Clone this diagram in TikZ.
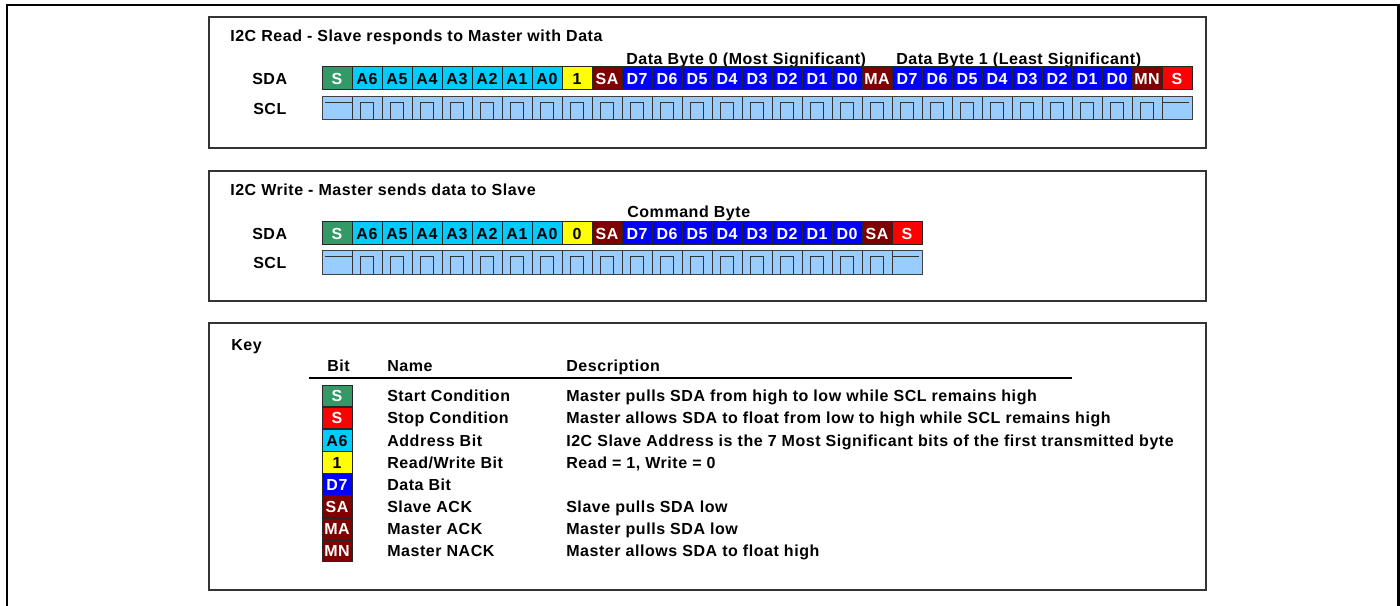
\documentclass[tikz,border=0pt]{standalone}
\usepackage{fontspec}
\setmainfont{Liberation Sans}[LetterSpace=3.5]
\definecolor{cgreen}{HTML}{339966}
\definecolor{caddr}{HTML}{00CCFF}
\definecolor{cyel}{HTML}{FFFF00}
\definecolor{cack}{HTML}{800000}
\definecolor{cdata}{HTML}{0000FF}
\definecolor{cstop}{HTML}{FF0000}
\definecolor{sclblue}{HTML}{99CCFF}
\begin{document}
\begin{tikzpicture}[x=0.75pt,y=-0.75pt,
  every node/.style={font=\fontsize{12pt}{14pt}\selectfont\bfseries},
  lbl/.style={anchor=west, inner sep=0pt, text height=8.6pt, text depth=0pt},
  cell/.style={draw=black!85, line width=0.75pt, minimum width=22.5pt, minimum height=17.25pt, inner sep=0pt, text height=8.6pt, text depth=0pt},
  keycell/.style={cell, minimum height=16.2pt},
  frame/.style={draw=black!80, line width=1.5pt},
  sclband/.style={fill=sclblue, draw=black!75, line width=0.75pt},
  sclline/.style={draw=black!80, line width=0.75pt}]
\useasboundingbox (0,0) rectangle (1400,606);
% outer frame
\draw[line width=1.6pt] (7,620) -- (7,5) -- (1398.5,5) -- (1398.5,620);
% boxes
\draw[frame] (209,17) rectangle (1206,148);
\draw[frame] (209,171) rectangle (1206,301);
\draw[frame] (209,323) rectangle (1206,590);
% ---------- READ ----------
\node[lbl] (rtitle) at (230,36) {I2C Read - Slave responds to Master with Data};
\node[lbl] (rdb0) at (626,58.5) {Data Byte 0 (Most Significant)};
\node[lbl] (rdb1) at (896,58.5) {Data Byte 1 (Least Significant)};
\node[lbl] (rsda) at (252,79) {SDA};
\node[lbl] (rscl) at (253,108.5) {SCL};
\foreach \t/\f/\c [count=\i from 0] in {S/cgreen/white, A6/caddr/black, A5/caddr/black, A4/caddr/black, A3/caddr/black, A2/caddr/black, A1/caddr/black, A0/caddr/black, 1/cyel/black, SA/cack/white, D7/cdata/white, D6/cdata/white, D5/cdata/white, D4/cdata/white, D3/cdata/white, D2/cdata/white, D1/cdata/white, D0/cdata/white, MA/cack/white, D7/cdata/white, D6/cdata/white, D5/cdata/white, D4/cdata/white, D3/cdata/white, D2/cdata/white, D1/cdata/white, D0/cdata/white, MN/cack/white, S/cstop/white}
  \node[cell, fill=\f, text=\c] (rd\i) at (337+30*\i,78.5) {\t};
\filldraw[sclband] (322,97) rectangle (1192,120);
\foreach \i in {1,...,28} \draw[sclline] (322+30*\i,97) -- (322+30*\i,120);
\foreach \i in {1,...,27} \draw[sclline] (330.5+30*\i,120) -- (330.5+30*\i,102.5) -- (343.5+30*\i,102.5) -- (343.5+30*\i,120);
\draw[sclline] (325,103) -- (352,103);
\draw[sclline] (1162,103) -- (1189,103);
% ---------- WRITE ----------
\node[lbl] (wtitle) at (230,190) {I2C Write - Master sends data to Slave};
\node[lbl] (wcmd) at (627,211.5) {Command Byte};
\node[lbl] (wsda) at (252,233.5) {SDA};
\node[lbl] (wscl) at (253,262.5) {SCL};
\foreach \t/\f/\c [count=\i from 0] in {S/cgreen/white, A6/caddr/black, A5/caddr/black, A4/caddr/black, A3/caddr/black, A2/caddr/black, A1/caddr/black, A0/caddr/black, 0/cyel/black, SA/cack/white, D7/cdata/white, D6/cdata/white, D5/cdata/white, D4/cdata/white, D3/cdata/white, D2/cdata/white, D1/cdata/white, D0/cdata/white, SA/cack/white, S/cstop/white}
  \node[cell, fill=\f, text=\c] (wd\i) at (337+30*\i,233.5) {\t};
\filldraw[sclband] (322,251) rectangle (922,274);
\foreach \i in {1,...,19} \draw[sclline] (322+30*\i,251) -- (322+30*\i,274);
\foreach \i in {1,...,18} \draw[sclline] (330.5+30*\i,274) -- (330.5+30*\i,256.5) -- (343.5+30*\i,256.5) -- (343.5+30*\i,274);
\draw[sclline] (325,257) -- (352,257);
\draw[sclline] (892,257) -- (919,257);
% ---------- KEY ----------
\node[lbl] (key) at (231,344.5) {Key};
\node[lbl] (hbit) at (327,366) {Bit};
\node[lbl] (hname) at (387,366) {Name};
\node[lbl] (hdesc) at (566,366) {Description};
\draw[line width=1.5pt] (309,377.5) -- (1072,377.5);
\foreach \t/\f/\c/\n/\d [count=\i from 0] in {
  S/cgreen/white/Start Condition/Master pulls SDA from high to low while SCL remains high,
  S/cstop/white/Stop Condition/Master allows SDA to float from low to high while SCL remains high,
  A6/caddr/black/Address Bit/I2C Slave Address is the 7 Most Significant bits of the first transmitted byte,
  1/cyel/black/Read{/}Write Bit/{Read = 1, Write = 0},
  D7/cdata/white/Data Bit/{},
  SA/cack/white/Slave ACK/Slave pulls SDA low,
  MA/cack/white/Master ACK/Master pulls SDA low,
  MN/cack/white/Master NACK/Master allows SDA to float high}
{
  \node[keycell, fill=\f, text=\c] (ks\i) at (337,396+22.14*\i) {\t};
  \node[lbl] (kn\i) at (387,396+22.14*\i) {\n};
  \node[lbl] (kd\i) at (566,396+22.14*\i) {\d};
}
\end{tikzpicture}
\end{document}
